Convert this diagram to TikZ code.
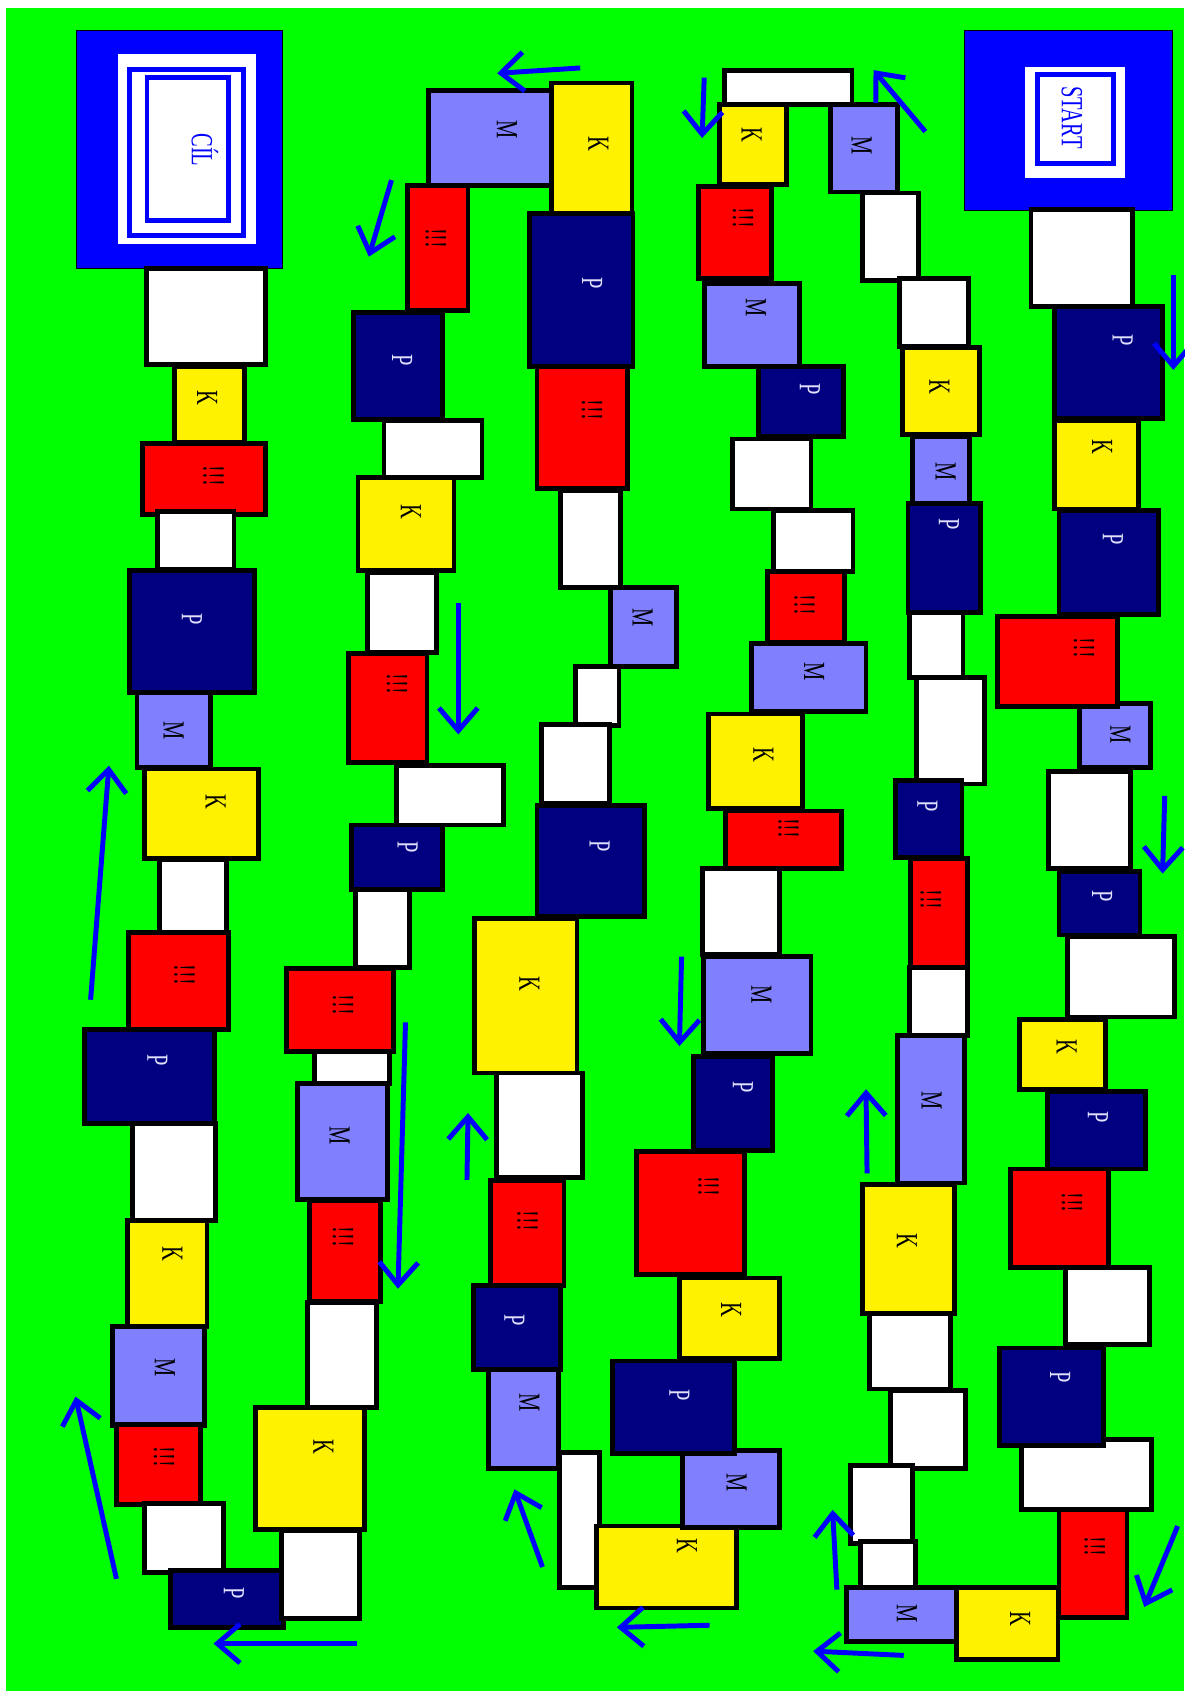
\documentclass[tikz,border=0pt]{standalone}
\usepackage{fontspec}
\usepackage{graphicx}
\newfontfamily\boardfont{Liberation Serif}
\usetikzlibrary{arrows.meta}
\definecolor{board}{RGB}{0,255,0}
\definecolor{navy}{RGB}{0,0,128}
\definecolor{lav}{RGB}{128,128,255}
\definecolor{pale}{RGB}{225,225,255}
\newcommand{\tall}[1]{\scalebox{1}[1.5]{#1}}

\begin{document}
\begin{tikzpicture}[
    x=1pt, y=-1pt,
    tile/.style={draw=black, line width=4.5pt},
    blank/.style={tile, fill=white},
    ktile/.style={tile, fill=yellow},
    rtile/.style={tile, fill=red},
    ptile/.style={tile, fill=navy},
    mtile/.style={tile, fill=lav},
    lbl/.style={rotate=-90, inner sep=0pt, font=\boardfont\fontsize{19}{20}\selectfont},
    plbl/.style={lbl, text=pale},
    arrow/.style={-{Straight Barb[length=21pt, width=36pt]}, line width=4.6pt, blue}
]
    % Board
    \useasboundingbox (0,0) rectangle (1098,1568);
    \fill[board] (6,7) rectangle (1098,1568);

    % Goal and start
    \filldraw[fill=blue, draw=black, line width=1pt] (71,28) rectangle (262,249);
    \fill[white] (109,50) rectangle (237,226);
    \fill[blue] (118,62) rectangle (228,221);
    \fill[white] (122.6,66.6) rectangle (223.4,216.4);
    \fill[blue] (134,70) rectangle (214,207);
    \fill[white] (138.6,74.6) rectangle (209.4,202.4);
    \node[lbl, text=blue] (goal) at (190,139) {\tall{CÍL}};

    \filldraw[fill=blue, draw=black, line width=1pt] (894,28) rectangle (1087,195);
    \fill[white] (950,62) rectangle (1043,165);
    \fill[blue] (960,67) rectangle (1035,154);
    \fill[white] (964.6,71.6) rectangle (1030.4,149.4);
    \node[lbl, text=blue] (start) at (994,109) {\tall{START}};

    % First column
    \draw[blank] (136,249) rectangle (246,338);
    \draw[ktile] (162,340) rectangle (227,410);
    \draw[rtile] (132,411) rectangle (246,477);
    \draw[blank] (146,474) rectangle (217,528);
    \draw[ptile] (120,529) rectangle (236,642);
    \draw[mtile] (127,642) rectangle (195,712);
    \draw[ktile] (134,713) rectangle (240,796);
    \draw[blank] (148,797) rectangle (210,866);
    \draw[rtile] (119,865) rectangle (212,955);
    \draw[ptile] (78,955) rectangle (199,1042);
    \draw[blank] (123,1042) rectangle (200,1132);
    \draw[ktile] (118,1132) rectangle (192,1230);
    \draw[mtile] (104,1230) rectangle (190,1322);
    \draw[rtile] (108,1321) rectangle (186,1395);
    \draw[blank] (134,1394) rectangle (207,1458);
    \draw[ptile] (158,1456) rectangle (263,1509);
    \node[lbl] (k1) at (192,369) {\tall{K}};
    \node[lbl] (r1) at (198,441) {\tall{!!!}};
    \node[plbl] (p1) at (178,574) {\tall{P}};
    \node[lbl] (m1) at (161,677) {\tall{M}};
    \node[lbl] (k2) at (200,744) {\tall{K}};
    \node[lbl] (r2) at (171,904) {\tall{!!!}};
    \node[plbl] (p2) at (146,983) {\tall{P}};
    \node[lbl] (k3) at (160,1163) {\tall{K}};
    \node[lbl] (m2) at (153,1268) {\tall{M}};
    \node[lbl] (r3) at (152,1351) {\tall{!!!}};
    \node[plbl] (p3) at (217,1477) {\tall{P}};

    % Second column
    \draw[blank] (261,1419) rectangle (333,1501);
    \draw[ktile] (237,1305) rectangle (338,1418);
    \draw[blank] (285,1208) rectangle (349,1305);
    \draw[rtile] (287,1113) rectangle (353,1207);
    \draw[mtile] (276,1005) rectangle (359,1112);
    \draw[blank] (292,975) rectangle (361,1005);
    \draw[rtile] (266,898) rectangle (365,975);
    \draw[blank] (330,825) rectangle (380,897);
    \draw[ptile] (326,765) rectangle (410,825);
    \draw[blank] (368,710) rectangle (467,765);
    \draw[rtile] (323,606) rectangle (396,707);
    \draw[blank] (341,531) rectangle (405,605);
    \draw[ktile] (332,443) rectangle (421,529);
    \draw[blank] (356,390) rectangle (447,443);
    \draw[ptile] (328,290) rectangle (410,389);
    \draw[rtile] (378,172) rectangle (434,288);
    \draw[mtile] (397,84) rectangle (513,172);
    \draw[ktile] (511,77) rectangle (586,199);
    \node[lbl] (k4) at (300,1342) {\tall{K}};
    \node[lbl] (r4) at (318,1147) {\tall{!!!}};
    \node[lbl] (m3) at (315,1053) {\tall{M}};
    \node[lbl] (r5) at (318,932) {\tall{!!!}};
    \node[plbl] (p4) at (378,786) {\tall{P}};
    \node[lbl] (r6) at (368,634) {\tall{!!!}};
    \node[lbl] (k5) at (381,475) {\tall{K}};
    \node[plbl] (p5) at (373,334) {\tall{P}};
    \node[lbl] (r7) at (404,221) {\tall{!!!}};
    \node[lbl] (m4) at (470,120) {\tall{M}};
    \node[lbl] (k6) at (555,133) {\tall{K}};

    % Third column
    \draw[ptile] (491,198) rectangle (587,340);
    \draw[rtile] (498,340) rectangle (582,453);
    \draw[blank] (520,455) rectangle (575,545);
    \draw[mtile] (566,545) rectangle (627,618);
    \draw[blank] (534,618) rectangle (574,673);
    \draw[blank] (502,672) rectangle (565,745);
    \draw[ptile] (498,747) rectangle (598,850);
    \draw[ktile] (440,852) rectangle (535,995);
    \draw[blank] (460,995) rectangle (540,1092);
    \draw[rtile] (455,1095) rectangle (523,1192);
    \draw[ptile] (439,1192) rectangle (520,1270);
    \draw[mtile] (453,1270) rectangle (518,1362);
    \draw[blank] (519,1347) rectangle (556,1472);
    \draw[ktile] (553,1415) rectangle (683,1491);
    \node[plbl] (p6) at (549,263) {\tall{P}};
    \node[lbl] (r8) at (549,380) {\tall{!!!}};
    \node[lbl] (m5) at (596,573) {\tall{M}};
    \node[plbl] (p7) at (556,785) {\tall{P}};
    \node[lbl] (k7) at (491,912) {\tall{K}};
    \node[lbl] (r9) at (489,1132) {\tall{!!!}};
    \node[plbl] (p8) at (477,1224) {\tall{P}};
    \node[lbl] (m6) at (491,1301) {\tall{M}};
    \node[lbl] (k8) at (637,1433) {\tall{K}};

    % Fourth column
    \draw[mtile] (633,1345) rectangle (723,1416);
    \draw[ptile] (568,1262) rectangle (681,1348);
    \draw[ktile] (630,1185) rectangle (723,1260);
    \draw[rtile] (590,1068) rectangle (690,1182);
    \draw[ptile] (643,980) rectangle (716,1067);
    \draw[mtile] (652,887) rectangle (752,977);
    \draw[blank] (651,805) rectangle (723,885);
    \draw[rtile] (673,752) rectangle (780,805);
    \draw[ktile] (657,662) rectangle (744,750);
    \draw[mtile] (697,597) rectangle (803,660);
    \draw[rtile] (712,530) rectangle (783,596);
    \draw[blank] (717,473) rectangle (791,530);
    \draw[blank] (679,407) rectangle (752,472);
    \draw[ptile] (703,340) rectangle (782,405);
    \draw[mtile] (653,263) rectangle (741,340);
    \draw[rtile] (648,173) rectangle (715,258);
    \draw[ktile] (667,97) rectangle (729,171);
    \draw[blank] (672,65) rectangle (790,97);
    \node[lbl] (m7) at (683,1375) {\tall{M}};
    \node[plbl] (p9) at (630,1294) {\tall{P}};
    \node[lbl] (k9) at (678,1215) {\tall{K}};
    \node[lbl] (r10) at (657,1100) {\tall{!!!}};
    \node[plbl] (p10) at (689,1008) {\tall{P}};
    \node[lbl] (m8) at (706,922) {\tall{M}};
    \node[lbl] (r11) at (731,768) {\tall{!!!}};
    \node[lbl] (k10) at (708,700) {\tall{K}};
    \node[lbl] (m9) at (755,623) {\tall{M}};
    \node[lbl] (r12) at (746,561) {\tall{!!!}};
    \node[plbl] (p11) at (751,361) {\tall{P}};
    \node[lbl] (m10) at (701,285) {\tall{M}};
    \node[lbl] (r13) at (689,202) {\tall{!!!}};
    \node[lbl] (k11) at (697,125) {\tall{K}};

    % Fifth column
    \draw[mtile] (770,97) rectangle (832,178);
    \draw[blank] (800,179) rectangle (852,260);
    \draw[blank] (834,258) rectangle (898,321);
    \draw[ktile] (837,322) rectangle (908,403);
    \draw[mtile] (846,405) rectangle (899,467);
    \draw[ptile] (842,467) rectangle (909,568);
    \draw[blank] (843,568) rectangle (893,628);
    \draw[blank] (850,628) rectangle (913,727);
    \draw[ptile] (830,724) rectangle (892,795);
    \draw[rtile] (844,796) rectangle (897,897);
    \draw[blank] (843,897) rectangle (897,960);
    \draw[mtile] (832,960) rectangle (894,1097);
    \draw[ktile] (800,1098) rectangle (885,1218);
    \draw[blank] (806,1218) rectangle (881,1288);
    \draw[blank] (826,1289) rectangle (895,1362);
    \draw[blank] (789,1359) rectangle (846,1431);
    \draw[blank] (798,1429) rectangle (849,1472);
    \draw[mtile] (785,1472) rectangle (887,1522);
    \draw[ktile] (887,1472) rectangle (981,1539);
    \node[lbl] (m11) at (799,135) {\tall{M}};
    \node[lbl] (k12) at (871,359) {\tall{K}};
    \node[lbl] (m12) at (877,437) {\tall{M}};
    \node[plbl] (p12) at (880,486) {\tall{P}};
    \node[plbl] (p13) at (860,748) {\tall{P}};
    \node[lbl] (r14) at (863,834) {\tall{!!!}};
    \node[lbl] (m13) at (864,1021) {\tall{M}};
    \node[lbl] (k13) at (841,1151) {\tall{K}};
    \node[lbl] (m14) at (841,1496) {\tall{M}};
    \node[lbl] (k14) at (946,1501) {\tall{K}};

    % Sixth column
    \draw[rtile] (982,1400) rectangle (1045,1500);
    \draw[blank] (947,1335) rectangle (1068,1400);
    \draw[ptile] (927,1250) rectangle (1023,1340);
    \draw[blank] (988,1175) rectangle (1066,1247);
    \draw[rtile] (937,1084) rectangle (1028,1175);
    \draw[ptile] (971,1012) rectangle (1062,1084);
    \draw[ktile] (945,945) rectangle (1025,1010);
    \draw[blank] (990,868) rectangle (1089,943);
    \draw[ptile] (982,808) rectangle (1057,867);
    \draw[blank] (972,715) rectangle (1048,805);
    \draw[mtile] (1001,652) rectangle (1067,712);
    \draw[rtile] (925,572) rectangle (1036,655);
    \draw[ptile] (982,473) rectangle (1074,570);
    \draw[ktile] (978,390) rectangle (1056,472);
    \draw[ptile] (978,284) rectangle (1078,388);
    \draw[blank] (956,194) rectangle (1050,284);
    \node[lbl] (r15) at (1015,1434) {\tall{!!!}};
    \node[plbl] (p14) at (983,1277) {\tall{P}};
    \node[lbl] (r16) at (994,1115) {\tall{!!!}};
    \node[plbl] (p15) at (1018,1036) {\tall{P}};
    \node[lbl] (k15) at (989,971) {\tall{K}};
    \node[plbl] (p16) at (1022,831) {\tall{P}};
    \node[lbl] (m15) at (1039,681) {\tall{M}};
    \node[lbl] (r17) at (1005,601) {\tall{!!!}};
    \node[plbl] (p17) at (1032,500) {\tall{P}};
    \node[lbl] (k16) at (1022,414) {\tall{K}};
    \node[plbl] (p18) at (1041,315) {\tall{P}};

    % Direction arrows
    \draw[arrow] (538,63) -- (461,68);
    \draw[arrow] (363,167) -- (342,238);
    \draw[arrow] (653,72) -- (651,128);
    \draw[arrow] (858,122) -- (810,65);
    \draw[arrow] (1088,255) -- (1088,343);
    \draw[arrow] (425,559) -- (425,681);
    \draw[arrow] (1080,738) -- (1078,810);
    \draw[arrow] (632,887) -- (630,970);
    \draw[arrow] (376,948) -- (369,1195);
    \draw[arrow] (433,1094) -- (434,1032);
    \draw[arrow] (804,1088) -- (803,1010);
    \draw[arrow] (84,927) -- (101,710);
    \draw[arrow] (108,1464) -- (70,1295);
    \draw[arrow] (503,1453) -- (477,1381);
    \draw[arrow] (776,1474) -- (772,1400);
    \draw[arrow] (331,1524) -- (198,1524);
    \draw[arrow] (658,1507) -- (572,1509);
    \draw[arrow] (838,1535) -- (754,1531);
    \draw[arrow] (1092,1415) -- (1061,1490);
\end{tikzpicture}
\end{document}
